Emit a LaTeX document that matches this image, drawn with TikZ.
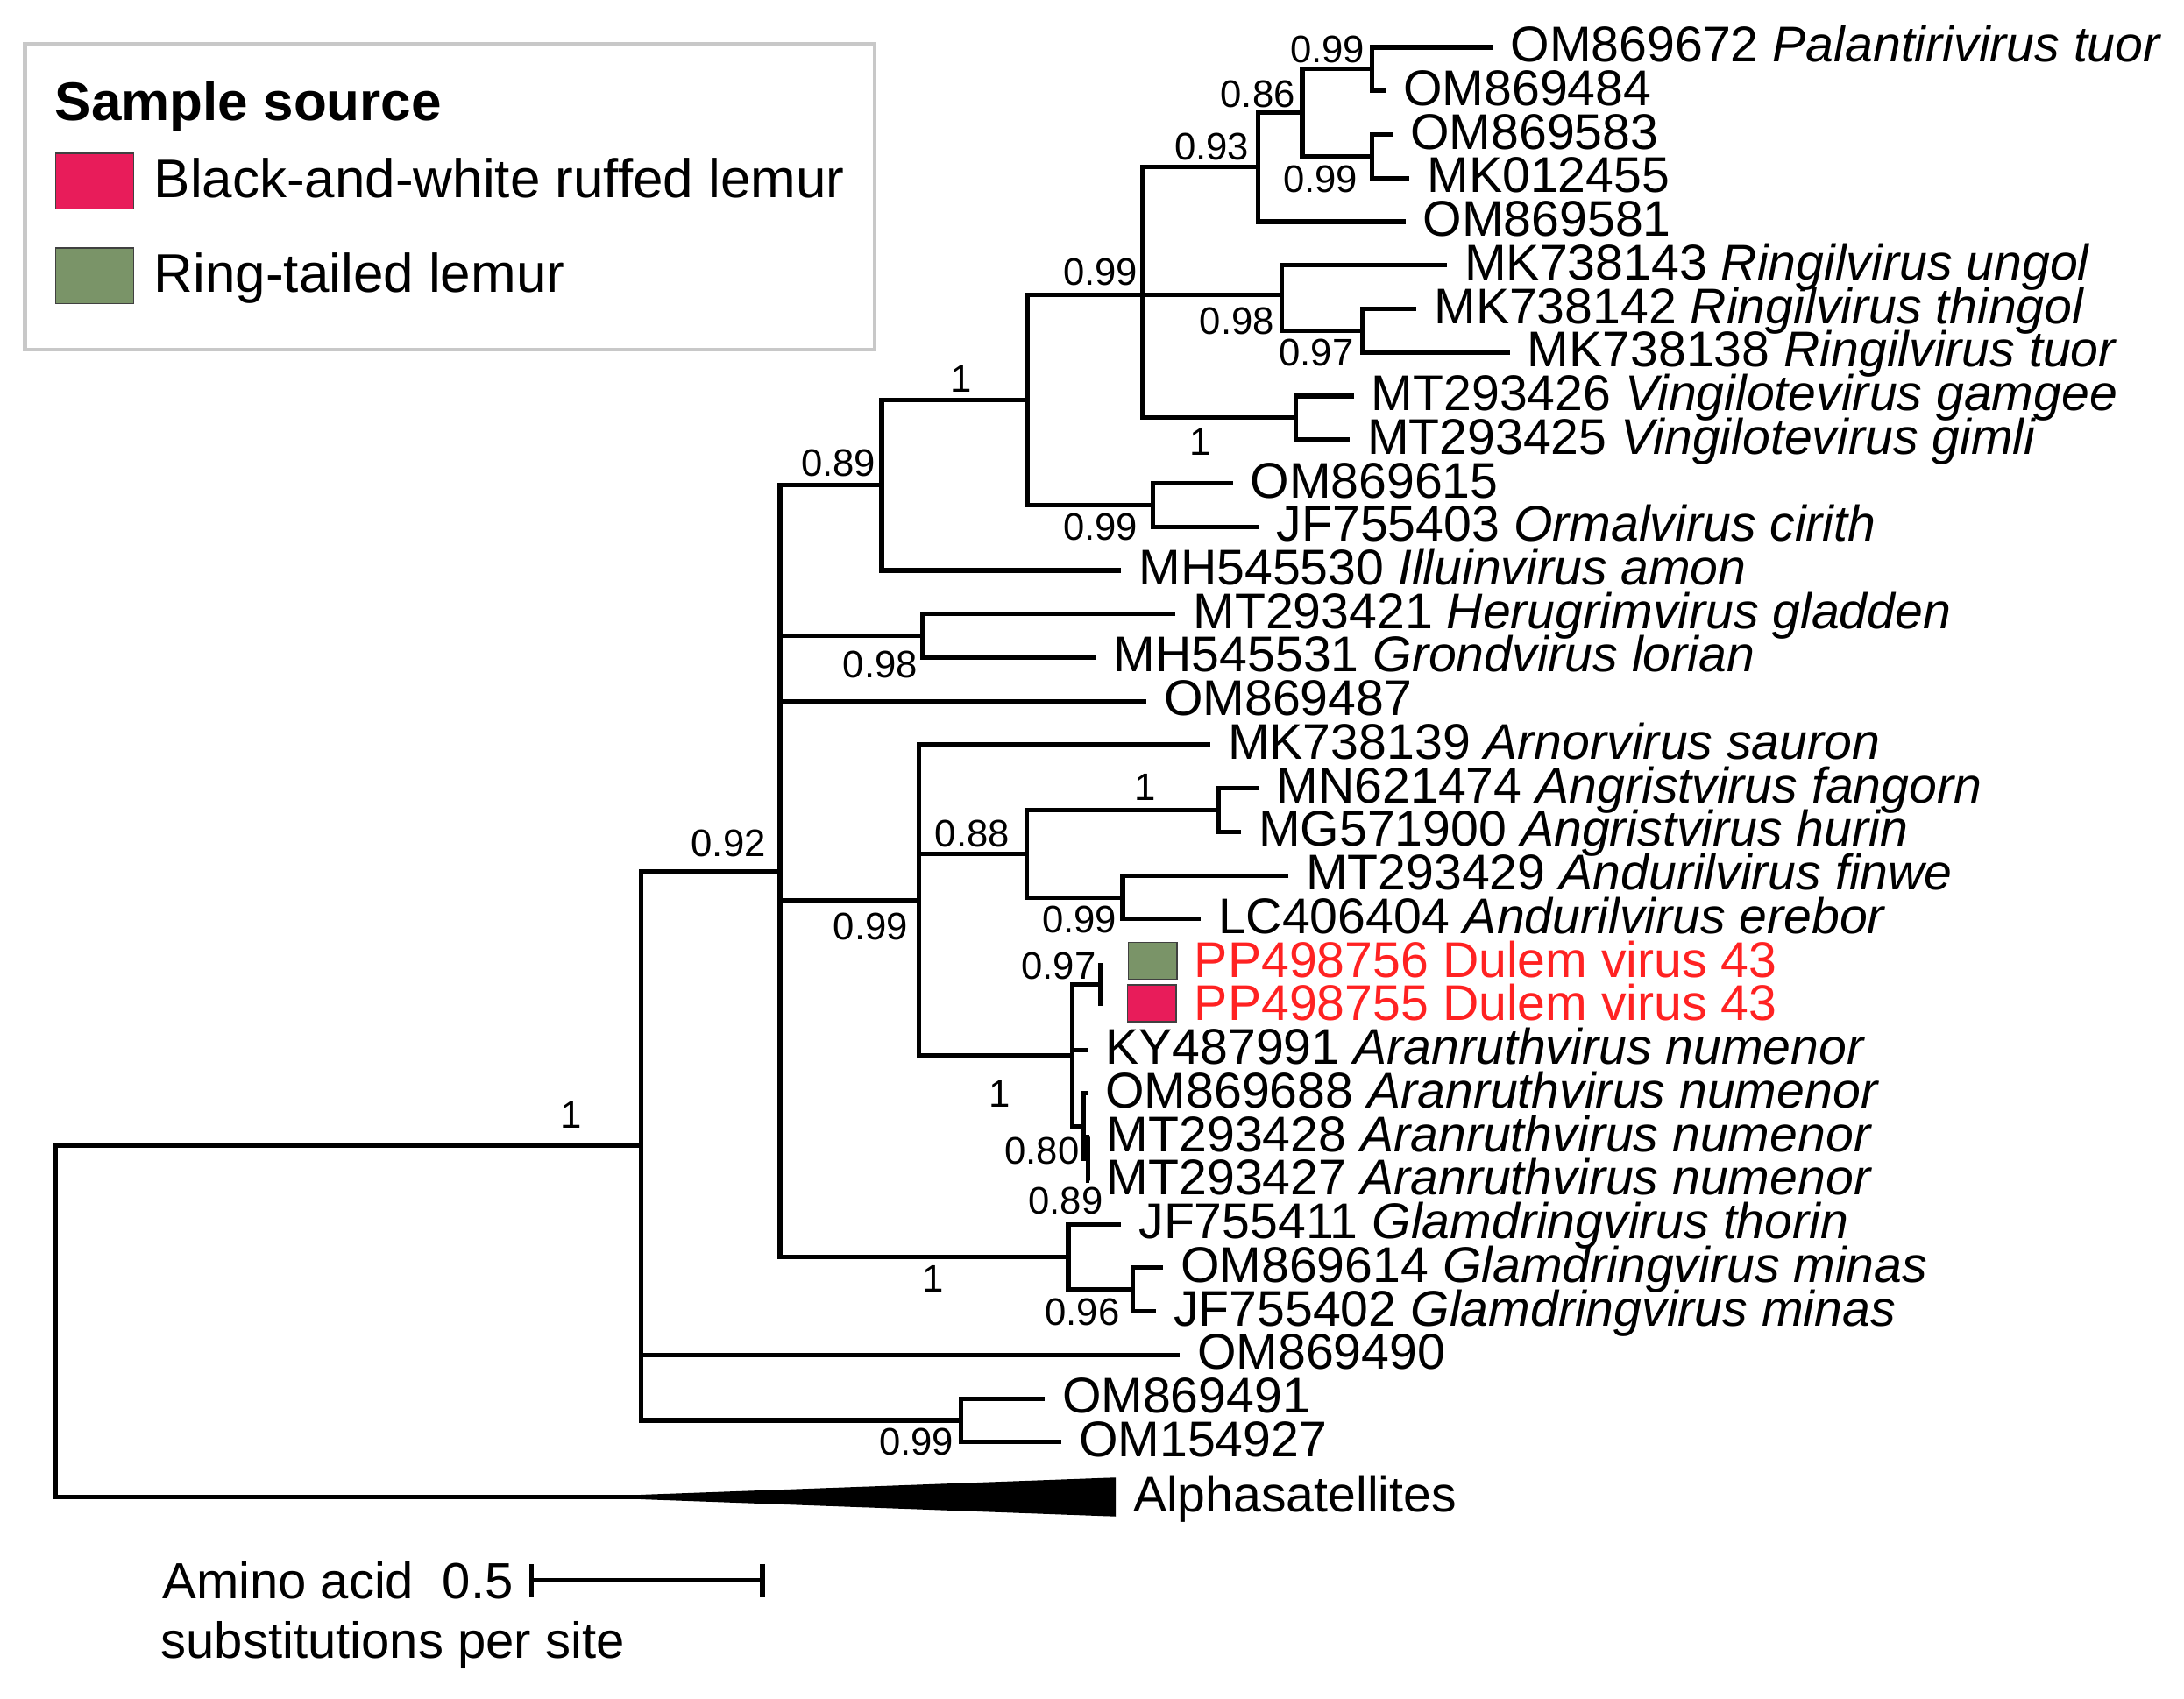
\documentclass[tikz,border=0pt]{standalone}
\usepackage{fontspec}
\setmainfont{Liberation Sans}
\usetikzlibrary{arrows.meta}
\definecolor{ruffed}{HTML}{E81C5A}
\definecolor{ringtail}{HTML}{7A9468}
\definecolor{dulem}{HTML}{FF2222}
\definecolor{legendgray}{HTML}{C8C8C8}

\begin{document}
\begin{tikzpicture}[x=1pt,y=-1pt,line width=3.2pt,
    leaf/.style={anchor=west,inner xsep=11pt,inner ysep=0pt,text height=25.8pt,text depth=5pt,font=\fontsize{36}{40}\selectfont},
    sup/.style={inner sep=0pt,text height=19.7pt,text depth=0pt,font=\fontsize{27.5}{30}\selectfont},
    key/.style={anchor=west,inner sep=0pt,text height=27.9pt,text depth=0pt,font=\fontsize{39}{44}\selectfont},
    scaletxt/.style={anchor=west,inner sep=0pt,text height=26.1pt,text depth=0pt,font=\fontsize{36.5}{40}\selectfont},
    swatch/.style={draw=black!75,line width=1pt,minimum width=56pt,minimum height=40pt,inner sep=0pt},
    tag/.style={draw=black!75,line width=1pt,minimum width=35pt,minimum height=26.5pt,inner sep=0pt}]
                \useasboundingbox (0,0) rectangle (1568,1220);
                % legend
                \draw[legendgray,line width=3pt] (18,32) rectangle (628,251);
                \node[key,font=\bfseries\fontsize{39}{44}\selectfont] (keytitle) at (38,72.3) {Sample source};
                \node[swatch,fill=ruffed] (keyruffed) at (68,130) {};
                \node[key] (keyruffedtxt) at (109,128) {Black-and-white ruffed lemur};
                \node[swatch,fill=ringtail] (keyringtail) at (68,198) {};
                \node[key] (keyringtailtxt) at (109,196) {Ring-tailed lemur};
                % leaves
                \node[leaf] (om869672) at (1072,34) {OM869672 \textit{Palantirivirus tuor}};
                \node[leaf] (om869484) at (995,65.3) {OM869484};
                \node[leaf] (om869583) at (1000,96.6) {OM869583};
                \node[leaf] (mk012455) at (1012,127.9) {MK012455};
                \node[leaf] (om869581) at (1009,159.2) {OM869581};
                \node[leaf] (mk738143) at (1039,190.5) {MK738143 \textit{Ringilvirus ungol}};
                \node[leaf] (mk738142) at (1017,221.8) {MK738142 \textit{Ringilvirus thingol}};
                \node[leaf] (mk738138) at (1084,253.1) {MK738138 \textit{Ringilvirus tuor}};
                \node[leaf] (mt293426) at (972,284.4) {MT293426 \textit{Vingilotevirus gamgee}};
                \node[leaf] (mt293425) at (969,315.7) {MT293425 \textit{Vingilotevirus gimli}};
                \node[leaf] (om869615) at (885,347) {OM869615};
                \node[leaf] (jf755403) at (904,378.3) {JF755403 \textit{Ormalvirus cirith}};
                \node[leaf] (mh545530) at (805,409.6) {MH545530 \textit{Illuinvirus amon}};
                \node[leaf] (mt293421) at (844,440.9) {MT293421 \textit{Herugrimvirus gladden}};
                \node[leaf] (mh545531) at (787,472.2) {MH545531 \textit{Grondvirus lorian}};
                \node[leaf] (om869487) at (823,503.5) {OM869487};
                \node[leaf] (mk738139) at (869,534.8) {MK738139 \textit{Arnorvirus sauron}};
                \node[leaf] (mn621474) at (904,566.1) {MN621474 \textit{Angristvirus fangorn}};
                \node[leaf] (mg571900) at (891,597.4) {MG571900 \textit{Angristvirus hurin}};
                \node[leaf] (mt293429) at (925,628.7) {MT293429 \textit{Andurilvirus finwe}};
                \node[leaf] (lc406404) at (862,660) {LC406404 \textit{Andurilvirus erebor}};
                \coordinate (tip756) at (790,691.3);
                \node[tag,fill=ringtail] (tag756) at (827.5,690) {};
                \node[leaf,text=dulem] (pp498756) at (845,691.3) {PP498756 Dulem virus 43};
                \coordinate (tip755) at (790,722.6);
                \node[tag,fill=ruffed] (tag755) at (827,720.5) {};
                \node[leaf,text=dulem] (pp498755) at (845,722.6) {PP498755 Dulem virus 43};
                \node[leaf] (ky487991) at (781,753.9) {KY487991 \textit{Aranruthvirus numenor}};
                \node[leaf] (om869688) at (781,785.2) {OM869688 \textit{Aranruthvirus numenor}};
                \node[leaf] (mt293428) at (782,816.5) {MT293428 \textit{Aranruthvirus numenor}};
                \node[leaf] (mt293427) at (782,847.8) {MT293427 \textit{Aranruthvirus numenor}};
                \node[leaf] (jf755411) at (805,879.1) {JF755411 \textit{Glamdringvirus thorin}};
                \node[leaf] (om869614) at (835,910.4) {OM869614 \textit{Glamdringvirus minas}};
                \node[leaf] (jf755402) at (830,941.7) {JF755402 \textit{Glamdringvirus minas}};
                \node[leaf] (om869490) at (847,973) {OM869490};
                \node[leaf] (om869491) at (750,1004.3) {OM869491};
                \node[leaf] (om154927) at (762,1035.6) {OM154927};
                \node[leaf] (alpha) at (801,1075) {Alphasatellites};
                % inner nodes
                \coordinate (n099a) at (985,49.65);
                \coordinate (n099b) at (985,112.25);
                \coordinate (n086) at (935,80.95);
                \coordinate (n093) at (903,120.1);
                \coordinate (n097) at (978,237.45);
                \coordinate (n098) at (920,212);
                \coordinate (nving) at (930,300.05);
                \coordinate (n099c) at (820,212);
                \coordinate (normal) at (828,362.65);
                \coordinate (nmid) at (738,287.3);
                \coordinate (n089) at (633,348.45);
                \coordinate (nherug) at (662,456.55);
                \coordinate (nangr) at (875,581.75);
                \coordinate (nandur) at (806,644.35);
                \coordinate (n088) at (737,613.05);
                \coordinate (ndulem) at (790,706.95);
                \coordinate (n089b) at (781,832.15);
                \coordinate (n080) at (778,808.7);
                \coordinate (naran) at (770,757.8);
                \coordinate (n099d) at (660,646.3);
                \coordinate (n096) at (813,926.05);
                \coordinate (nglam) at (767,902.6);
                \coordinate (n092) at (560,625.5);
                \coordinate (n099e) at (690,1019.95);
                \coordinate (ntop) at (460,822.7);
                \coordinate (root) at (40,948.85);
                \coordinate (alphatip) at (460,1075);
                % branches
                \draw (n099a) |- (om869672);
                \draw (n099a) |- (om869484);
                \draw (n099b) |- (om869583);
                \draw (n099b) |- (mk012455);
                \draw (n086) |- (n099a);
                \draw (n086) |- (n099b);
                \draw (n093) |- (n086);
                \draw (n093) |- (om869581);
                \draw (n097) |- (mk738142);
                \draw (n097) |- (mk738138);
                \draw (n098) |- (mk738143);
                \draw (n098) |- (n097);
                \draw (nving) |- (mt293426);
                \draw (nving) |- (mt293425);
                \draw (n099c) |- (n093);
                \draw (n099c) |- (n098);
                \draw (n099c) |- (nving);
                \draw (normal) |- (om869615);
                \draw (normal) |- (jf755403);
                \draw (nmid) |- (n099c);
                \draw (nmid) |- (normal);
                \draw (n089) |- (nmid);
                \draw (n089) |- (mh545530);
                \draw (nherug) |- (mt293421);
                \draw (nherug) |- (mh545531);
                \draw (nangr) |- (mn621474);
                \draw (nangr) |- (mg571900);
                \draw (nandur) |- (mt293429);
                \draw (nandur) |- (lc406404);
                \draw (n088) |- (nangr);
                \draw (n088) |- (nandur);
                \draw (ndulem) |- (tip756);
                \draw (ndulem) |- (tip755);
                \draw (n089b) |- (mt293428);
                \draw (n089b) |- (mt293427);
                \draw (n080) |- (om869688);
                \draw (n080) |- (n089b);
                \draw (naran) |- (ndulem);
                \draw (naran) |- (ky487991);
                \draw (naran) |- (n080);
                \draw (n099d) |- (mk738139);
                \draw (n099d) |- (n088);
                \draw (n099d) |- (naran);
                \draw (n096) |- (om869614);
                \draw (n096) |- (jf755402);
                \draw (nglam) |- (jf755411);
                \draw (nglam) |- (n096);
                \draw (n092) |- (n089);
                \draw (n092) |- (nherug);
                \draw (n092) |- (om869487);
                \draw (n092) |- (n099d);
                \draw (n092) |- (nglam);
                \draw (n099e) |- (om869491);
                \draw (n099e) |- (om154927);
                \draw (ntop) |- (n092);
                \draw (ntop) |- (om869490);
                \draw (ntop) |- (n099e);
                \draw (root) |- (ntop);
                \draw (root) |- (alphatip);
                \fill ([yshift=1.6pt]alphatip) -- ([yshift=14pt]alpha.west) -- ([yshift=-14pt]alpha.west) -- ([yshift=-1.6pt]alphatip) -- cycle;
                % support values
                \node[sup] (s01) at (953,35) {0.99};
                \node[sup] (s02) at (903,67) {0.86};
                \node[sup] (s03) at (948,128) {0.99};
                \node[sup] (s04) at (870,105) {0.93};
                \node[sup] (s05) at (790,195) {0.99};
                \node[sup] (s06) at (888,230) {0.98};
                \node[sup] (s07) at (945,253) {0.97};
                \node[sup] (s08) at (862,317) {1};
                \node[sup] (s09) at (690,272) {1};
                \node[sup] (s10) at (602,332) {0.89};
                \node[sup] (s11) at (790,378) {0.99};
                \node[sup] (s12) at (632,477) {0.98};
                \node[sup] (s13) at (523,605) {0.92};
                \node[sup] (s14) at (698,598) {0.88};
                \node[sup] (s15) at (822,565) {1};
                \node[sup] (s16) at (775,660) {0.99};
                \node[sup] (s17) at (625,665) {0.99};
                \node[sup] (s18) at (760,693) {0.97};
                \node[sup] (s19) at (718,785) {1};
                \node[sup] (s20) at (748,826) {0.80};
                \node[sup] (s21) at (765,862) {0.89};
                \node[sup] (s22) at (670,918) {1};
                \node[sup] (s23) at (777,942) {0.96};
                \node[sup] (s24) at (410,800) {1};
                \node[sup] (s25) at (658,1035) {0.99};
                % scale bar
                \node[scaletxt] (aminoacid) at (115,1135) {Amino acid};
                \node[scaletxt,anchor=east] (halfunit) at (370,1135) {0.5};
                \node[scaletxt] (persite) at (114,1178) {substitutions per site};
                \coordinate (barl) at (380,1135);
                \coordinate (barr) at (549,1135);
                \draw[{Bar[width=24pt]}-{Bar[width=24pt]}] (barl) -- (barr);
            \end{tikzpicture}
\end{document}
